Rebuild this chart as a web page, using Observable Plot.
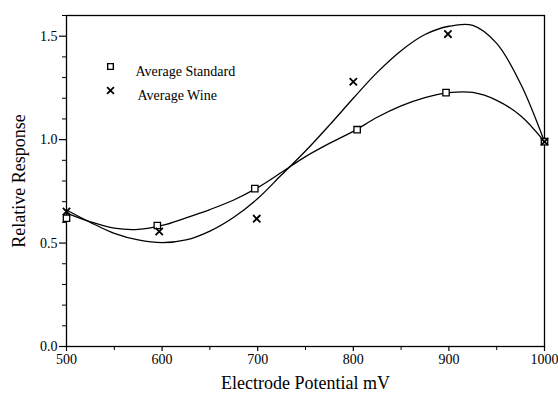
<!DOCTYPE html>
<html>
<head>
<meta charset="utf-8">
<script src="https://cdn.jsdelivr.net/npm/d3@7"></script>
<script src="https://cdn.jsdelivr.net/npm/@observablehq/plot@0.6"></script>
<style>
  html, body { margin: 0; padding: 0; background: #fff; }
  #chart svg { display: block; }
  #chart svg, #chart svg text { font-family: "Liberation Serif", "Times New Roman", serif !important; }
</style>
</head>
<body>
<div id="chart"></div>
<script>
// Measured points
const stdX = [500, 595, 697, 804, 897, 1000];
const stdY = [0.62, 0.585, 0.763, 1.048, 1.227, 0.99];
const wineX = [500, 597, 699, 800, 899, 1000];
const wineY = [0.652, 0.556, 0.618, 1.28, 1.51, 0.99];

// Fitted curves
const curveX = [500, 525, 550, 575, 600, 625, 650, 675, 700, 725, 750, 775, 800, 825, 850, 875, 900, 925, 950, 975, 1000];
const stdCurve = [0.645, 0.603, 0.572, 0.566, 0.585, 0.622, 0.662, 0.708, 0.768, 0.842, 0.918, 0.982, 1.04, 1.108, 1.163, 1.203, 1.227, 1.228, 1.19, 1.115, 0.99];
const wineCurve = [0.66, 0.60, 0.547, 0.515, 0.502, 0.515, 0.558, 0.625, 0.715, 0.83, 0.945, 1.07, 1.2, 1.325, 1.43, 1.508, 1.548, 1.552, 1.465, 1.27, 0.99];

const legendLabels = ["Average Standard", "Average Wine"];
const xMajor = [500, 600, 700, 800, 900, 1000];
const xMinor = [550, 650, 750, 850, 950];
const yMajor = [0, 0.5, 1.0, 1.5];
const yMinor = [0.1, 0.2, 0.3, 0.4, 0.6, 0.7, 0.8, 0.9, 1.1, 1.2, 1.3, 1.4, 1.6];

const stdPts = stdX.map((x, i) => ({x, y: stdY[i]}));
const winePts = wineX.map((x, i) => ({x, y: wineY[i]}));
const stdLine = curveX.map((x, i) => ({x, y: stdCurve[i]}));
const wineLine = curveX.map((x, i) => ({x, y: wineCurve[i]}));

const chart = Plot.plot({
  width: 558,
  height: 395,
  marginLeft: 66,
  marginRight: 14,
  marginTop: 15,
  marginBottom: 49,
  style: {fontFamily: "'Liberation Serif', 'Times New Roman', serif", fontSize: "14px", color: "#000", background: "#fff"},
  x: {domain: [500, 1000]},
  y: {domain: [0, 1.6]},
  marks: [
    Plot.frame({stroke: "#000", strokeWidth: 1.3}),
    Plot.axisX(xMajor, {tickSize: 5, tickPadding: 3, fontSize: 14, tickFormat: d3.format("d"), label: "Electrode Potential mV", labelAnchor: "center", labelOffset: 42, labelArrow: "none", strokeWidth: 1.2}),
    Plot.axisX(xMinor, {tickSize: 4, tickFormat: () => "", label: null, strokeWidth: 1}),
    Plot.axisY(yMajor, {tickSize: 7, tickPadding: 2, fontSize: 14, tickFormat: d3.format(".1f"), label: "Relative Response", labelAnchor: "center", labelOffset: 54, labelArrow: "none", strokeWidth: 1.2}),
    Plot.axisY(yMinor, {tickSize: 4, tickFormat: () => "", label: null, strokeWidth: 1}),
    Plot.line(stdLine, {x: "x", y: "y", curve: "catmull-rom", stroke: "#000", strokeWidth: 1.3}),
    Plot.line(wineLine, {x: "x", y: "y", curve: "catmull-rom", stroke: "#000", strokeWidth: 1.3}),
    Plot.dot(stdPts, {x: "x", y: "y", symbol: "square", r: 3.6, fill: "#fff", stroke: "#000", strokeWidth: 1.3}),
    Plot.dot(winePts, {x: "x", y: "y", symbol: "times", r: 3.4, stroke: "#000", strokeWidth: 1.8}),
    // legend
    Plot.dot([legendLabels[0]], {frameAnchor: "top-left", dx: 44, dy: 51, symbol: "square", r: 3.2, fill: "#fff", stroke: "#000", strokeWidth: 1.4}),
    Plot.dot([legendLabels[1]], {frameAnchor: "top-left", dx: 44, dy: 75, symbol: "times", r: 3.2, stroke: "#000", strokeWidth: 1.8}),
    Plot.text([legendLabels[0]], {text: d => d, frameAnchor: "top-left", dx: 69, dy: 51, textAnchor: "start", fontSize: 14, fill: "#000"}),
    Plot.text([legendLabels[1]], {text: d => d, frameAnchor: "top-left", dx: 71, dy: 75, textAnchor: "start", fontSize: 14, fill: "#000"})
  ]
});
chart.querySelectorAll("[aria-label='x-axis label'] text, [aria-label='y-axis label'] text").forEach(t => t.setAttribute("font-size", "18"));
document.getElementById("chart").appendChild(chart);
</script>
</body>
</html>
